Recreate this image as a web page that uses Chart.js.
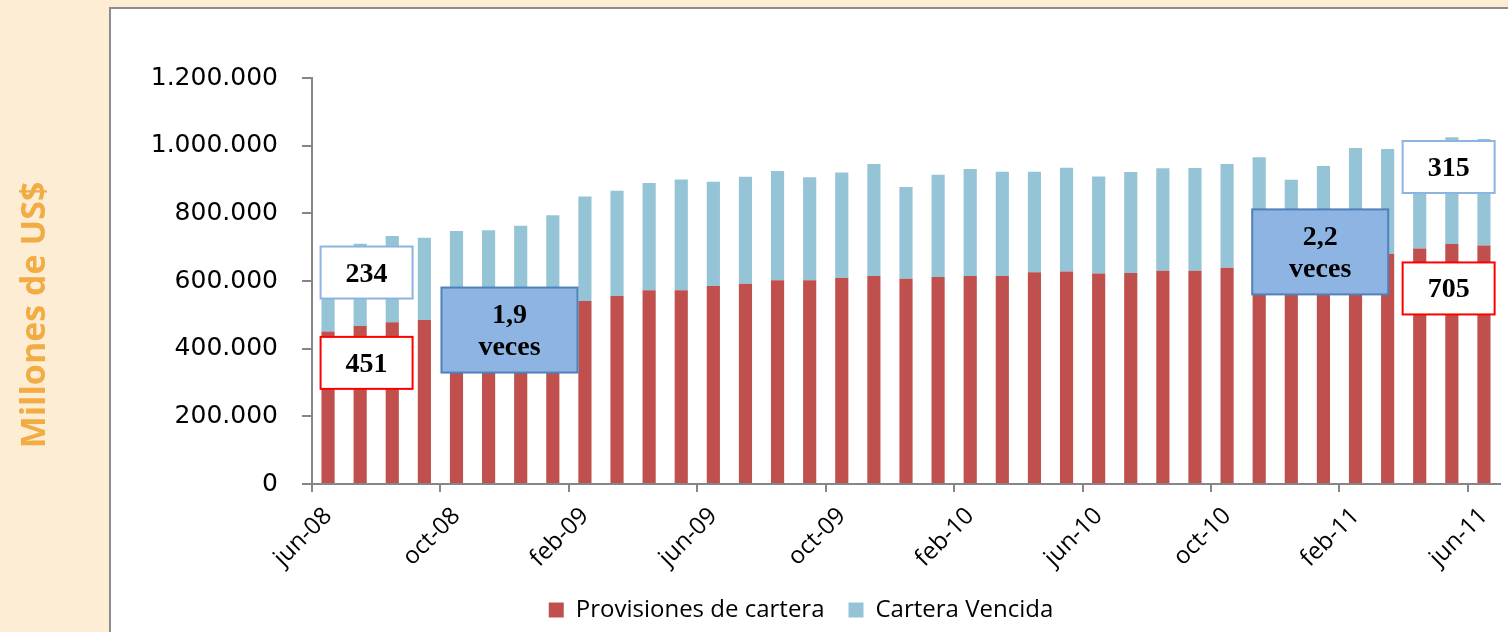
<!DOCTYPE html>
<html>
<head>
<meta charset="utf-8">
<script src="https://cdn.jsdelivr.net/npm/chart.js@4.4.0/dist/chart.umd.min.js"></script>
<style>
  html, body { margin: 0; padding: 0; overflow: hidden; width: 1508px; height: 632px; background: #FDEDD5; }
  #panel { position: absolute; left: 109px; top: 7px; width: 1500px; height: 700px; background: #fff; border: 2px solid #8C8C8C; }
  #wrap { position: absolute; left: 0; top: 0; width: 1602px; height: 632px; }
</style>
</head>
<body>
<div id="panel"></div>
<div id="wrap"><canvas id="chart"></canvas></div>
<script>
// Provisiones vs Cartera Vencida, jun-08 a jun-11 (miles de US$)

const months = [
  'jun-08', 'jul-08', 'ago-08', 'sep-08', 'oct-08', 'nov-08', 'dic-08', 'ene-09',
  'feb-09', 'mar-09', 'abr-09', 'may-09', 'jun-09', 'jul-09', 'ago-09', 'sep-09',
  'oct-09', 'nov-09', 'dic-09', 'ene-10', 'feb-10', 'mar-10', 'abr-10', 'may-10',
  'jun-10', 'jul-10', 'ago-10', 'sep-10', 'oct-10', 'nov-10', 'dic-10', 'ene-11',
  'feb-11', 'mar-11', 'abr-11', 'may-11', 'jun-11'
];

const provisiones = [
  451000, 467000, 478000, 485000, 490000, 500000, 510000, 522000,
  541000, 556000, 573000, 573000, 585000, 592000, 602000, 602000,
  609000, 615000, 607000, 612000, 615000, 615000, 626000, 628000,
  622000, 624000, 630000, 630000, 639000, 648000, 655000, 662000,
  670000, 680000, 696000, 709000, 705000
];

const vencida = [
  234000, 243000, 255000, 243000, 258000, 250000, 253000, 272000,
  309000, 311000, 317000, 327000, 308000, 316000, 323000, 305000,
  312000, 331000, 271000, 302000, 316000, 308000, 297000, 307000,
  287000, 298000, 303000, 304000, 307000, 318000, 244000, 278000,
  323000, 310000, 309000, 316000, 315000
];

const yTicks = [0, 200000, 400000, 600000, 800000, 1000000, 1200000];

// cuadros de texto sobre el gráfico (posición en índice de mes / valor)
const notes = [
  { lines: ['234'], at: 1.2, val: 625000, kind: 'blue' },
  { lines: ['451'], at: 1.2, val: 358000, kind: 'red' },
  { lines: ['1,9', 'veces'], at: 5.65, val: 455000, kind: 'fill' },
  { lines: ['2,2', 'veces'], at: 30.9, val: 686000, kind: 'fill' },
  { lines: ['315'], at: 34.9, val: 937000, kind: 'blue' },
  { lines: ['705'], at: 34.9, val: 578000, kind: 'red' }
];

function fmt(v) {
  return String(v).replace(/\B(?=(\d{3})+(?!\d))/g, '.');
}

const notesPlugin = {
  id: 'notes',
  afterDatasetsDraw(chart) {
    const ctx = chart.ctx;
    const xs = chart.scales.x, ys = chart.scales.y;
    ctx.save();
    ctx.font = 'bold 28px "Liberation Serif"';
    ctx.textAlign = 'center';
    ctx.textBaseline = 'alphabetic';
    notes.forEach(n => {
      const cx = xs.getPixelForValue(n.at);
      const cy = ys.getPixelForValue(n.val);
      const big = n.kind === 'fill';
      const w = big ? 136 : 92;
      const h = big ? 85 : 52;
      ctx.fillStyle = big ? '#8EB4E3' : '#ffffff';
      ctx.fillRect(cx - w / 2, cy - h / 2, w, h);
      ctx.lineWidth = 2;
      ctx.strokeStyle = n.kind === 'red' ? '#FF0000' : (big ? '#4F81BD' : '#8DB3E2');
      ctx.strokeRect(cx - w / 2, cy - h / 2, w, h);
      ctx.fillStyle = '#000';
      if (big) {
        ctx.fillText(n.lines[0], cx, cy - 7);
        ctx.fillText(n.lines[1], cx, cy + 25);
      } else {
        ctx.fillText(n.lines[0], cx, cy + 9);
      }
    });
    ctx.restore();
  }
};

const yTitlePlugin = {
  id: 'yTitle',
  afterDraw(chart) {
    const ctx = chart.ctx;
    ctx.save();
    ctx.translate(45, 315);
    ctx.rotate(-Math.PI / 2);
    ctx.font = 'bold 34px "Open Sans"';
    ctx.fillStyle = '#F2AC44';
    ctx.textAlign = 'center';
    ctx.textBaseline = 'alphabetic';
    ctx.fillText('Millones de US$', 0, 0);
    ctx.restore();
  }
};

const ctx1 = document.getElementById('chart').getContext('2d');
new Chart(ctx1, {
  type: 'bar',
  data: {
    labels: months,
    datasets: [{
      label: 'Provisiones de cartera',
      data: provisiones,
      backgroundColor: '#C0504D',
      categoryPercentage: 1,
      barPercentage: 0.41
    }, {
      label: 'Cartera Vencida',
      data: vencida,
      backgroundColor: '#94C4D6',
      categoryPercentage: 1,
      barPercentage: 0.41
    }]
  },
  options: {
    responsive: true,
    maintainAspectRatio: false,
    animation: false,
    layout: { padding: { left: 0, right: 0, top: 78, bottom: 0 } },
    scales: {
      x: {
        stacked: true,
        offset: true,
        border: { color: '#868686', width: 2 },
        grid: {
          offset: true,
          drawOnChartArea: false,
          tickLength: 8,
          lineWidth: 2,
          color: c => (c.index % 4 === 0 ? '#868686' : 'rgba(0,0,0,0)')
        },
        ticks: {
          autoSkip: false,
          maxRotation: 45,
          minRotation: 45,
          padding: 10,
          color: '#000',
          font: { family: 'Open Sans', size: 24 },
          callback: function(value, index) {
            return index % 4 === 0 ? this.getLabelForValue(value) : '';
          }
        },
        afterFit: s => { s.height = 90; }
      },
      y: {
        stacked: true,
        min: yTicks[0],
        max: yTicks[yTicks.length - 1],
        border: { color: '#868686', width: 2 },
        grid: { drawOnChartArea: false, tickLength: 10, lineWidth: 2, color: '#868686' },
        afterBuildTicks: s => { s.ticks = yTicks.map(v => ({ value: v })); },
        ticks: {
          padding: 24,
          color: '#000',
          font: { family: 'DejaVu Sans', size: 25 },
          callback: v => fmt(v)
        },
        afterFit: s => { s.width = 312; }
      },
      // empty right-hand box so the legend centres on the whole panel
      spacer: {
        position: 'right',
        grid: { display: false },
        border: { display: false },
        ticks: { display: false },
        afterFit: s => { s.width = 102; }
      }
    },
    plugins: {
      legend: {
        position: 'bottom',
        labels: {
          boxWidth: 15,
          boxHeight: 15,
          padding: 24,
          color: '#000',
          font: { family: 'Open Sans', size: 24 }
        }
      },
      tooltip: { enabled: false }
    }
  },
  plugins: [notesPlugin, yTitlePlugin]
});
</script>
</body>
</html>
